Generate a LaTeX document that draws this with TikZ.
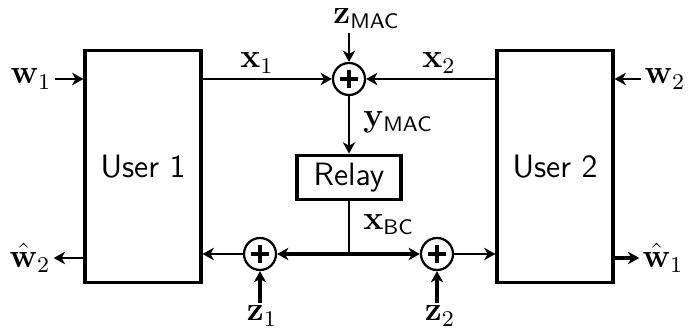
\documentclass[tikz,border=0pt]{standalone}
\usepackage{amsmath,amssymb}
\usepackage{tikz}
\usetikzlibrary{positioning,arrows.meta,calc}
\tikzset{
  user/.style={draw,line width=1.1pt,minimum width=1.45cm,minimum height=2.91cm,inner sep=0pt,font=\sffamily\fontsize{11.5}{14}\selectfont},
  relaybox/.style={draw,line width=1.1pt,minimum width=1.3cm,minimum height=0.56cm,inner sep=0pt,font=\sffamily\fontsize{11.5}{14}\selectfont},
  adder/.style={circle,draw,line width=0.8pt,minimum size=0.4cm,inner sep=0pt,
    path picture={\draw[line width=1.2pt]
      ([xshift=-0.11cm]path picture bounding box.center) -- ([xshift=0.11cm]path picture bounding box.center)
      ([yshift=-0.11cm]path picture bounding box.center) -- ([yshift=0.11cm]path picture bounding box.center);}},
  lab/.style={inner sep=1pt,font=\fontsize{12}{14}\selectfont},
  arr/.style={-{Stealth[length=4pt,width=4.4pt,inset=1.2pt]},line width=0.8pt},
  thickarr/.style={arr,line width=1.1pt},
}
\newcommand{\sub}[1]{\text{\sffamily\fontsize{7.5}{9}\selectfont #1}}

\begin{document}
\begin{tikzpicture}[x=0.0125cm,y=-0.0125cm]
\useasboundingbox (0,0) rectangle (688,334);

% users and relay
\node[user] (user1) at (143,166.5) {User 1};
\node[user] (user2) at (555,166.5) {User 2};
\node[relaybox] (relay) at (349,177.5) {Relay};

% adders
\node[adder] (summac) at (349,79) {};
\node[adder] (sum1) at (260,254) {};
\node[adder] (sum2) at (437,254) {};
\coordinate (jn) at (relay.south |- sum1);

% labels
\node[lab] (w1) at (31,79) {$\mathbf{w}_1$};
\node[lab] (w2) at (665,79) {$\mathbf{w}_2$};
\node[lab] (hw2) at (30,258) {$\hat{\mathbf{w}}_2$};
\node[lab] (hw1) at (663,258) {$\hat{\mathbf{w}}_1$};
\node[lab] (x1) at (257,63) {$\mathbf{x}_1$};
\node[lab] (x2) at (439,63) {$\mathbf{x}_2$};
\node[lab,anchor=west] (zmac) at (330,19) {$\mathbf{z}_{\sub{MAC}}$};
\node[lab,anchor=west] (ymac) at (360,122) {$\mathbf{y}_{\sub{MAC}}$};
\node[lab,anchor=west] (xbc) at (360,225) {$\mathbf{x}_{\sub{BC}}$};
\node[lab] (z1) at (262,316) {$\mathbf{z}_1$};
\node[lab] (z2) at (440,316) {$\mathbf{z}_2$};

% MAC phase
\draw[arr] (w1) -- (w1 -| user1.west);
\draw[arr] (w2) -- (w2 -| user2.east);
\draw[arr] (user1.east |- summac) -- (summac);
\draw[arr] (user2.west |- summac) -- (summac);
\draw[arr] (zmac.south -| summac) -- (summac);
\draw[arr] (summac) -- (relay);

% BC phase
\draw[line width=0.8pt] (relay) -- (jn);
\draw[thickarr] (jn) -- (sum1);
\draw[thickarr] (jn) -- (sum2);
\draw[arr] (sum1) -- (sum1 -| user1.east);
\draw[arr] (sum2) -- (sum2 -| user2.west);
\draw[thickarr] (z1.north -| sum1) -- (sum1);
\draw[thickarr] (z2.north -| sum2) -- (sum2);
\draw[arr] (user1.west |- hw2) -- (hw2);
\draw[thickarr] (user2.east |- hw1) -- (hw1);

\end{tikzpicture}
\end{document}
